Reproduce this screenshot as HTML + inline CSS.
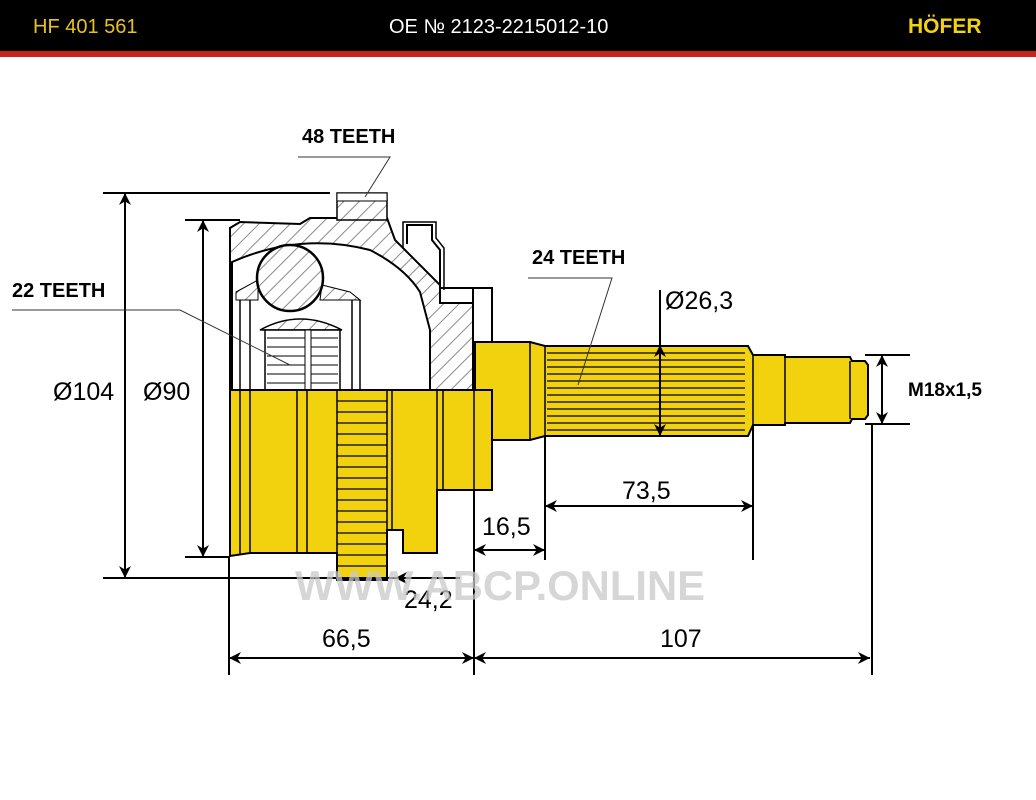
<!DOCTYPE html>
<html><head><meta charset="utf-8"><style>
html,body{margin:0;padding:0;background:#fff}
svg{display:block}
text{font-family:"Liberation Sans",sans-serif}
</style></head><body>
<svg width="1036" height="800" viewBox="0 0 1036 800" xmlns="http://www.w3.org/2000/svg">
<defs>
<pattern id="h" width="11" height="11" patternUnits="userSpaceOnUse" patternTransform="rotate(45)">
<rect width="11" height="11" fill="#fff"/><line x1="0" y1="0" x2="0" y2="11" stroke="#8a8a8a" stroke-width="2"/>
</pattern>
<marker id="a" viewBox="0 0 10 10" refX="10" refY="5" markerWidth="14" markerHeight="12" orient="auto-start-reverse" markerUnits="userSpaceOnUse"><path d="M0,0 L10,5 L0,10 L3,5 z" fill="#000"/></marker>
</defs>
<rect x="0" y="0" width="1036" height="51" fill="#000"/>
<rect x="0" y="51" width="1036" height="6" fill="#c4241c"/>
<text x="33" y="33" font-size="20" fill="#e8c31a">HF 401 561</text>
<text x="389" y="33" font-size="20" fill="#fff">OE № 2123-2215012-10</text>
<text x="908" y="33" font-size="21" font-weight="bold" fill="#f2d214">HÖFER</text>

<!-- housing hatched -->
<path d="M230,390 L230,228 L240,222 L300,224 L310,218 L387,218 L395,240 L440,285 L440,303 L473,303 L473,390 Z" fill="url(#h)" stroke="#000" stroke-width="2"/>
<rect x="337" y="193" width="50" height="27" fill="url(#h)" stroke="#000" stroke-width="1.5"/>
<rect x="337" y="193" width="50" height="8" fill="#fff" stroke="#000" stroke-width="1"/>
<rect x="473" y="288" width="19" height="55" fill="#fff" stroke="#000" stroke-width="2"/>
<path d="M440,288 L492,288" stroke="#000" stroke-width="2"/>
<path d="M407,244 L407,225 L432,225 L432,240 L440,250 L440,300" fill="none" stroke="#000" stroke-width="2"/>
<path d="M403,248 L403,222 L436,222 L436,238 L444,248 L444,290" fill="none" stroke="#000" stroke-width="1.5"/>
<!-- cavity -->
<path d="M232,262 Q300,232 370,250 Q405,268 420,292 L430,330 L430,390 L232,390 Z" fill="#fff" stroke="#000" stroke-width="2"/>
<path d="M236,292 L258,280 L258,300 L236,300 Z" fill="url(#h)" stroke="#000" stroke-width="1"/>
<path d="M322,285 L350,292 L360,300 L320,300 Z" fill="url(#h)" stroke="#000" stroke-width="1"/>
<line x1="240" y1="300" x2="240" y2="390" stroke="#000" stroke-width="1.5"/>
<line x1="250" y1="300" x2="250" y2="390" stroke="#000" stroke-width="1.5"/>
<line x1="352" y1="300" x2="352" y2="390" stroke="#000" stroke-width="1.5"/>
<line x1="360" y1="300" x2="360" y2="390" stroke="#000" stroke-width="1.5"/>
<path d="M260,330 Q300,308 342,330 Z" fill="url(#h)" stroke="#000" stroke-width="1.5"/>
<rect x="265" y="330" width="75" height="60" fill="#fff" stroke="#000" stroke-width="1.5"/>
<g stroke="#000" stroke-width="1">
<line x1="267" y1="338" x2="338" y2="338"/><line x1="267" y1="347" x2="338" y2="347"/><line x1="267" y1="356" x2="338" y2="356"/><line x1="267" y1="365" x2="338" y2="365"/><line x1="267" y1="374" x2="338" y2="374"/><line x1="267" y1="383" x2="338" y2="383"/>
</g>
<rect x="305" y="330" width="6" height="60" fill="#fff" stroke="#000" stroke-width="1"/>
<circle cx="290" cy="278" r="33" fill="url(#h)" stroke="#000" stroke-width="2.5"/>

<!-- shaft (behind body) -->
<g fill="#f2d20f" stroke="#000" stroke-width="2">
<path d="M475,342 L530,342 L545,346 L748,346 L753,355 L785,355 L785,357 L850,357 L852,361 L865,361 L868,365 L868,415 L865,419 L852,419 L850,423 L785,423 L785,425 L753,425 L748,436 L545,436 L530,440 L475,440 Z"/>
<path d="M230,390 L492,390 L492,490 L437,490 L437,553 L403,553 L403,530 L387,530 L387,580 L337,580 L337,553 L250,553 L230,556 Z"/>
</g>
<g stroke="#000" stroke-width="1.5">
<line x1="240" y1="390" x2="240" y2="555"/><line x1="250" y1="390" x2="250" y2="553"/>
<line x1="297" y1="390" x2="297" y2="553"/><line x1="307" y1="390" x2="307" y2="553"/>
<line x1="337" y1="390" x2="337" y2="553"/><line x1="387" y1="390" x2="387" y2="530"/>
<line x1="392" y1="390" x2="392" y2="530"/><line x1="437" y1="390" x2="437" y2="490"/>
<line x1="443" y1="390" x2="443" y2="490"/><line x1="474" y1="390" x2="474" y2="490"/>
<line x1="530" y1="342" x2="530" y2="440"/><line x1="545" y1="346" x2="545" y2="436"/>
<line x1="753" y1="355" x2="753" y2="425"/><line x1="785" y1="357" x2="785" y2="423"/><line x1="850" y1="361" x2="850" y2="419"/>
</g>
<g stroke="#000" stroke-width="1.2">
<line x1="337" y1="401" x2="387" y2="401"/><line x1="337" y1="412" x2="387" y2="412"/><line x1="337" y1="423" x2="387" y2="423"/><line x1="337" y1="434" x2="387" y2="434"/><line x1="337" y1="445" x2="387" y2="445"/><line x1="337" y1="456" x2="387" y2="456"/><line x1="337" y1="467" x2="387" y2="467"/><line x1="337" y1="478" x2="387" y2="478"/><line x1="337" y1="489" x2="387" y2="489"/><line x1="337" y1="500" x2="387" y2="500"/><line x1="337" y1="511" x2="387" y2="511"/><line x1="337" y1="522" x2="387" y2="522"/><line x1="337" y1="533" x2="387" y2="533"/><line x1="337" y1="544" x2="387" y2="544"/><line x1="337" y1="555" x2="387" y2="555"/><line x1="337" y1="566" x2="387" y2="566"/>
<line x1="547" y1="353" x2="745" y2="353"/><line x1="547" y1="360" x2="745" y2="360"/><line x1="547" y1="367" x2="745" y2="367"/><line x1="547" y1="374" x2="745" y2="374"/><line x1="547" y1="381" x2="745" y2="381"/><line x1="547" y1="388" x2="745" y2="388"/><line x1="547" y1="395" x2="745" y2="395"/><line x1="547" y1="402" x2="745" y2="402"/><line x1="547" y1="409" x2="745" y2="409"/><line x1="547" y1="416" x2="745" y2="416"/><line x1="547" y1="423" x2="745" y2="423"/><line x1="547" y1="430" x2="745" y2="430"/>
</g>

<!-- dimension lines -->
<g stroke="#000" stroke-width="2" fill="none">
<line x1="103" y1="193" x2="330" y2="193"/><line x1="103" y1="578" x2="460" y2="578"/>
<line x1="125" y1="193" x2="125" y2="578" marker-start="url(#a)" marker-end="url(#a)"/>
<line x1="185" y1="220" x2="240" y2="220"/><line x1="185" y1="557" x2="230" y2="557"/>
<line x1="203" y1="220" x2="203" y2="557" marker-start="url(#a)" marker-end="url(#a)"/>
<line x1="229" y1="556" x2="229" y2="675"/><line x1="474" y1="490" x2="474" y2="675"/><line x1="872" y1="424" x2="872" y2="675"/>
<line x1="229" y1="658" x2="474" y2="658" marker-start="url(#a)" marker-end="url(#a)"/>
<line x1="474" y1="658" x2="870" y2="658" marker-start="url(#a)" marker-end="url(#a)"/>
<line x1="545" y1="436" x2="545" y2="560"/><line x1="753" y1="425" x2="753" y2="560"/>
<line x1="545" y1="506" x2="753" y2="506" marker-start="url(#a)" marker-end="url(#a)"/>
<line x1="474" y1="550" x2="545" y2="550" marker-start="url(#a)" marker-end="url(#a)"/>
<line x1="660" y1="290" x2="660" y2="436" marker-end="url(#a)"/>
<line x1="660" y1="380" x2="660" y2="345" marker-end="url(#a)"/>
<line x1="865" y1="355" x2="910" y2="355"/><line x1="865" y1="424" x2="910" y2="424"/>
<line x1="882" y1="355" x2="882" y2="424" marker-start="url(#a)" marker-end="url(#a)"/>
<line x1="440" y1="578" x2="395" y2="578" marker-end="url(#a)"/>
</g>
<g stroke="#333" stroke-width="1" fill="none">
<polyline points="298,157 390,157 365,197"/>
<polyline points="12,310 180,310 290,365"/>
<polyline points="528,278 612,278 578,385"/>
</g>
<g font-size="25" fill="#000">
<text x="53" y="400">Ø104</text>
<text x="143" y="400">Ø90</text>
<text x="322" y="647">66,5</text>
<text x="660" y="647">107</text>
<text x="622" y="499">73,5</text>
<text x="482" y="535">16,5</text>
<text x="665" y="309">Ø26,3</text>
<text x="404" y="608">24,2</text>
</g>
<g font-size="20" font-weight="bold" fill="#000">
<text x="302" y="143">48 TEETH</text>
<text x="12" y="297">22 TEETH</text>
<text x="532" y="264">24 TEETH</text>
<text x="908" y="396" font-size="19">M18x1,5</text>
</g>
<text x="295" y="600" font-size="42" font-weight="bold" fill="#c8c8c8" fill-opacity="0.75" textLength="410" lengthAdjust="spacingAndGlyphs">WWW.ABCP.ONLINE</text>
</svg>
</body></html>
